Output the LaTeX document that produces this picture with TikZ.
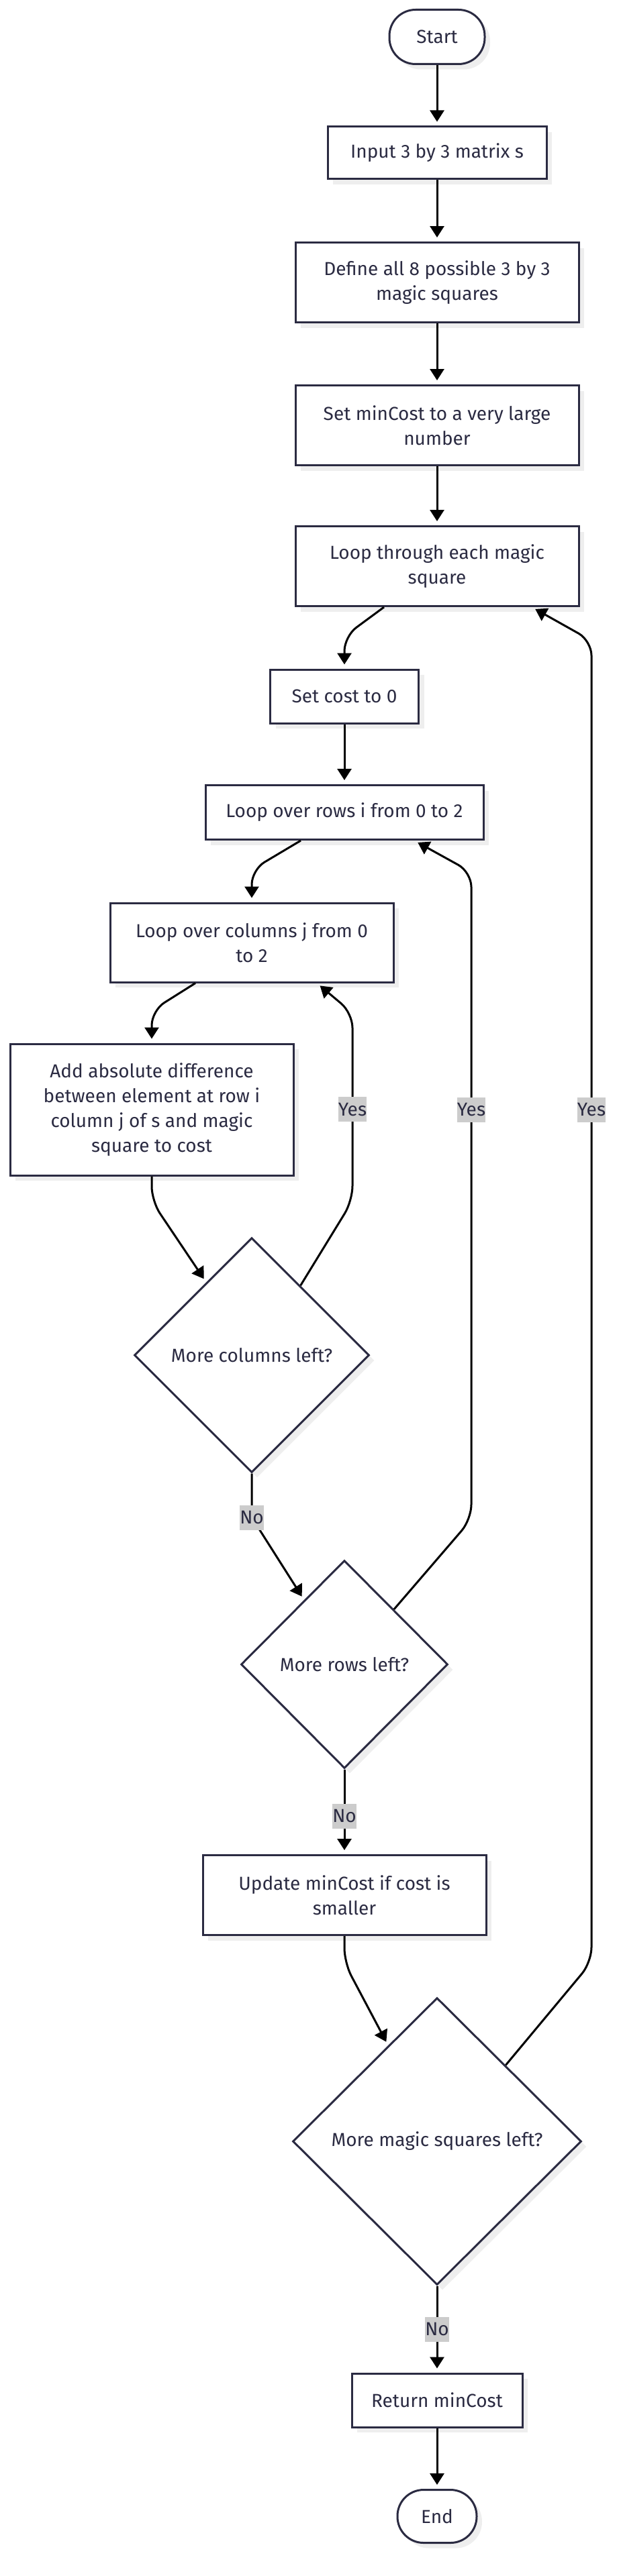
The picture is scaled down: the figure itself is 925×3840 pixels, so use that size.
\documentclass[tikz,border=0pt]{standalone}
\usepackage{fontspec}
\setmainfont{Fira Sans}
\usepackage{tikz}
\usetikzlibrary{arrows.meta,shapes.geometric,shadows}
\definecolor{ink}{HTML}{2B2B42}
\definecolor{lblgray}{HTML}{CCCCCC}
\definecolor{shade}{HTML}{EEEEEE}
\newcommand{\fs}{\fontsize{28}{37}\selectfont}
\tikzset{
  procbox/.style={draw=ink, line width=3pt, fill=white, text=ink, font=\fs, align=center,
    inner sep=0pt, drop shadow={shadow xshift=8pt, shadow yshift=-8pt, fill=shade, opacity=1}},
  term/.style={procbox, rounded corners=39pt},
  choice/.style={procbox, diamond},
  lbl/.style={sharp corners, fill=lblgray, text=ink, font=\fs, inner xsep=0pt, inner ysep=0pt, minimum height=37pt},
  flow/.style={line width=3pt, black, -{Triangle[length=17pt,width=21pt]}, shorten >=6pt, rounded corners=22pt},
}

\begin{document}
\begin{tikzpicture}[x=1pt,y=1pt]
    \useasboundingbox (0,0) rectangle (925,-3840);

    \node[term, minimum width=142pt, minimum height=81pt] (1) at (651,-55) {Start};
    \node[procbox, minimum width=326pt, minimum height=78pt] (2) at (651,-228) {Input 3 by 3 matrix s};
    \node[procbox, minimum width=422pt, minimum height=119pt] (3) at (651,-421) {Define all 8 possible 3 by 3\\magic squares};
    \node[procbox, minimum width=422pt, minimum height=119pt] (4) at (651,-634) {Set minCost to a very large\\number};
    \node[procbox, minimum width=422pt, minimum height=119pt] (5) at (651,-844) {Loop through each magic\\square};
    \node[procbox, minimum width=221pt, minimum height=80pt] (6) at (513,-1038) {Set cost to 0};
    \node[procbox, minimum width=414pt, minimum height=81pt] (7) at (513,-1211) {Loop over rows i from 0 to 2};
    \node[procbox, minimum width=422pt, minimum height=118pt] (8) at (375,-1405) {Loop over columns j from 0\\to 2};
    \node[procbox, minimum width=422pt, minimum height=196pt] (9) at (226,-1654) {Add absolute difference\\between element at row i\\column j of s and magic\\square to cost};
    \node[choice, minimum width=350pt, minimum height=350pt] (10) at (375,-2020) {More columns left?};
    \node[choice, minimum width=308pt, minimum height=310pt] (11) at (513,-2481) {More rows left?};
    \node[procbox, minimum width=422pt, minimum height=119pt] (12) at (513,-2825) {Update minCost if cost is\\smaller};
    \node[choice, minimum width=430pt, minimum height=428pt] (13) at (651,-3192) {More magic squares left?};
    \node[procbox, minimum width=254pt, minimum height=80pt] (14) at (651,-3578) {Return minCost};
    \node[term, minimum width=118pt, minimum height=79pt] (15) at (651,-3751) {End};

    % straight runs
    \path[flow]
    (1) edge (2)
    (2) edge (3)
    (3) edge (4)
    (4) edge (5)
    (6) edge (7)
    (11) edge node [lbl,pos=0.55] {No} (12)
    (13) edge node [lbl,pos=0.5] {No} (14)
    (14) edge (15)
    ;

    % bent runs
    \draw[flow] ([xshift=-79pt]5.south) -- ([yshift=48pt]6.north) -- (6.north);
    \draw[flow] ([xshift=-65pt]7.south) -- ([yshift=48pt]8.north) -- (8.north);
    \draw[flow] ([xshift=-84pt]8.south) -- ([yshift=48pt]9.north) -- (9.north);
    \draw[flow] (9.south) -- ([yshift=-37pt]9.south) -- (10.122);
    \draw[flow] (10.south) -- (375,-2262) node [lbl] {No} -- (11.122);
    \draw[flow] (12.south) -- ([yshift=-40pt]12.south) -- (13.117);

    % loops back
    \draw[flow] (10.55) -- (525,-1790) -- node [lbl,pos=0.486] {Yes} (525,-1510) -- ([xshift=97pt]8.south);
    \draw[flow] (11.48) -- (702,-2265) -- node [lbl,pos=0.633] {Yes} (702,-1300) -- ([xshift=104pt]7.south);
    \draw[flow] (13.48) -- (881,-2925) -- node [lbl,pos=0.645] {Yes} (881,-955) -- ([xshift=141pt]5.south);
\end{tikzpicture}
\end{document}
